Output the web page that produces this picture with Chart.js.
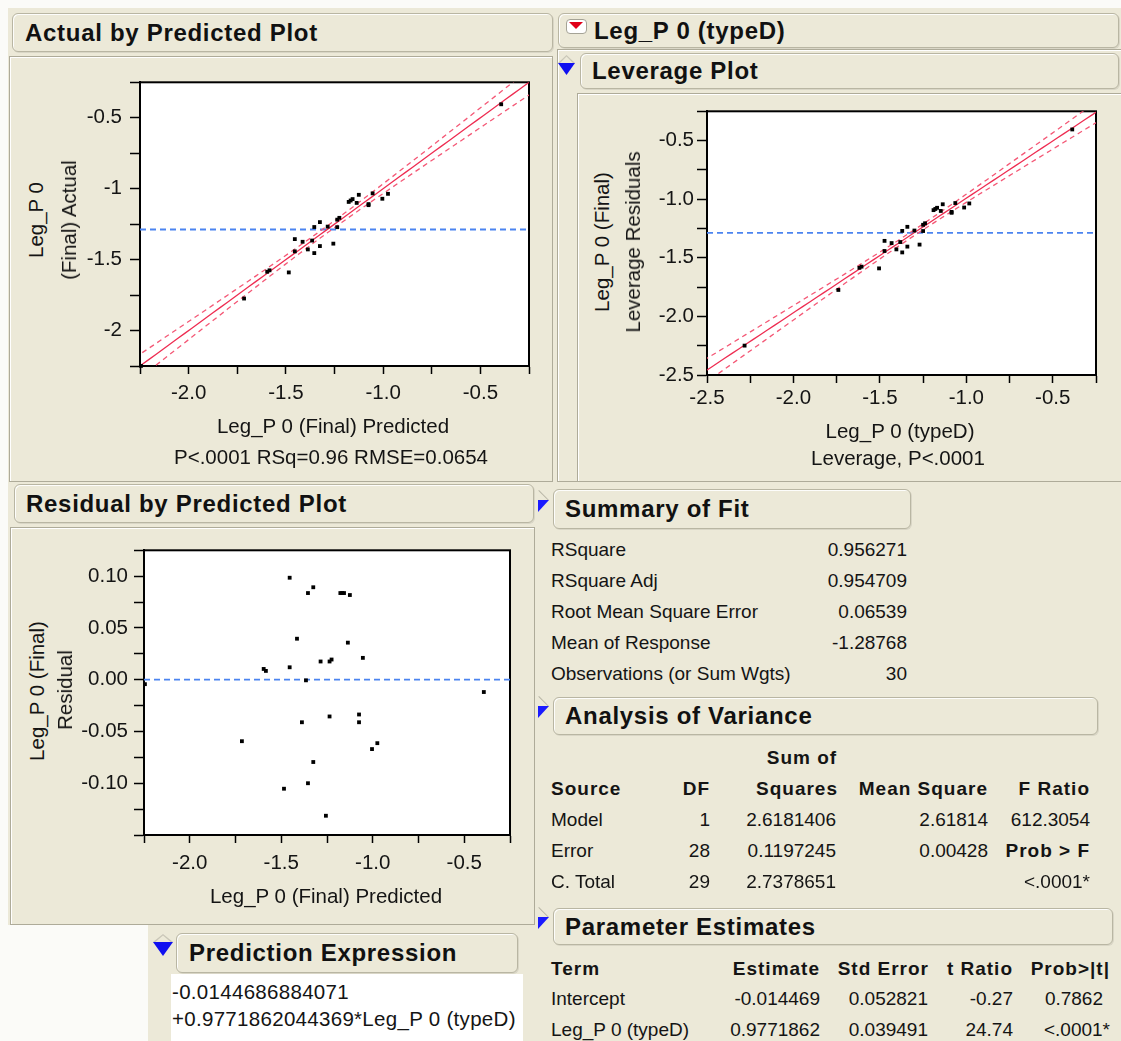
<!DOCTYPE html>
<html>
<head>
<meta charset="utf-8">
<title>Leg_P 0 (typeD)</title>
<script src="https://cdn.jsdelivr.net/npm/chart.js@4.4.1/dist/chart.umd.min.js"></script>
<style>
  html, body { margin: 0; padding: 0; }
  body { width: 1121px; height: 1041px; position: relative; overflow: hidden; background: #fbfbf8;
         font-family: "Liberation Sans", Arial, sans-serif; color: #141414; }
  .bg { position: absolute; background: #ece9d8; }
  .panel { position: absolute; box-sizing: border-box; border: 1px solid #aeab99; box-shadow: inset 1px 1px 0 #fff; }
  .hdr { position: absolute; box-sizing: border-box; border: 1px solid #b9b6a3; border-radius: 6px; background: #ece9d8;
         box-shadow: inset 1px 1px 0 #fdfdfb, 1px 1px 0 #d9d6c6; font-weight: bold; font-size: 24px;
         letter-spacing: 0.7px; display: flex; align-items: center; white-space: nowrap; color: #111; }
  .t { position: absolute; white-space: nowrap; font-size: 19px; line-height: 22px; }
  .b { font-weight: bold; letter-spacing: 1px; }
  .pt { font-size: 20.5px; line-height: 24px; }
  .ex { font-size: 20.5px; line-height: 24px; letter-spacing: 0.3px; }
  canvas { position: absolute; }
  .corner { position: absolute; width: 11px; height: 12px; background: #1a1aff; clip-path: polygon(0 0, 100% 0, 0 100%); }
  .slash { position: absolute; width: 14px; height: 1px; background: #b8b5a6; transform: rotate(45deg); transform-origin: 0 0; }
  .down { position: absolute; background: #1010f0; clip-path: polygon(0 0, 100% 0, 50% 100%); }
  .up { position: absolute; background: #c9c6b8; clip-path: polygon(50% 0, 100% 100%, 88% 100%, 50% 18%, 12% 100%, 0 100%); }
</style>
</head>
<body>

<div class="bg" style="left:8px;top:8px;width:547px;height:917px"></div>
<div class="bg" style="left:553px;top:8px;width:568px;height:1033px"></div>
<div class="bg" style="left:148px;top:925px;width:407px;height:116px"></div>

<div class="panel" style="left:9px;top:56px;width:544px;height:426px"></div>
<div class="panel" style="left:557px;top:49px;width:570px;height:433px"></div>
<div class="panel" style="left:577px;top:93px;width:550px;height:389px"></div>
<div class="panel" style="left:10px;top:527px;width:525px;height:398px"></div>

<div class="hdr" style="left:12px;top:13px;width:541px;height:39px;padding-left:12px">Actual by Predicted Plot</div>
<div class="hdr" style="left:558px;top:13px;width:561px;height:35px;padding-left:35px">Leg_P 0 (typeD)</div>
<div class="hdr" style="left:580px;top:53px;width:539px;height:36px;padding-left:11px">Leverage Plot</div>
<div class="hdr" style="left:14px;top:484px;width:520px;height:39px;padding-left:11px">Residual by Predicted Plot</div>
<div class="hdr" style="left:553px;top:489px;width:358px;height:40px;padding-left:11px">Summary of Fit</div>
<div class="hdr" style="left:553px;top:697px;width:545px;height:38px;padding-left:11px">Analysis of Variance</div>
<div class="hdr" style="left:553px;top:908px;width:560px;height:37px;padding-left:11px">Parameter Estimates</div>
<div class="hdr" style="left:176px;top:933px;width:342px;height:40px;padding-left:12px">Prediction Expression</div>

<!-- outline disclosure icons -->
<div style="position:absolute;left:566px;top:19px;width:19px;height:13px;background:#fff;border:1px solid #a5a396;border-radius:4px"></div>
<div class="down" style="left:569px;top:22px;width:14px;height:7px;background:#e00018"></div>
<div class="up" style="left:558px;top:55px;width:17px;height:8px"></div>
<div class="down" style="left:558px;top:63px;width:17px;height:12px"></div>
<div class="up" style="left:153px;top:934px;width:20px;height:8px"></div>
<div class="down" style="left:153px;top:942px;width:20px;height:14px"></div>
<div class="slash" style="left:539px;top:490px"></div>
<div class="corner" style="left:538px;top:500px"></div>
<div class="slash" style="left:539px;top:696px"></div>
<div class="corner" style="left:538px;top:706px"></div>
<div class="slash" style="left:539px;top:907px"></div>
<div class="corner" style="left:538px;top:917px"></div>

<div style="position:absolute;left:171px;top:974px;width:352px;height:67px;background:#fff"></div>

<script>
// fitted values of Leg_P 0 (Final) and their residuals, one pair per observation
const predicted = [-1.454, -1.354, -1.325, -1.177, -1.157, -1.125, -1.414, -1.136, -1.285, -1.236,
                   -1.225, -1.054, -1.596, -1.584, -1.454, -1.365, -1.236, -1.075, -1.075, -1.387,
                   -0.975, -1.004, -1.325, -1.354, -1.485, -1.256, -1.715, -2.245, -0.393, -1.167];
const residual = [0.0985, 0.0837, 0.0893, 0.0837, 0.0837, 0.0818, 0.0396, 0.0358, 0.0176, 0.0176,
                  0.0195, 0.0211, 0.0104, 0.0085, 0.0120, -0.0006, -0.0355, -0.0336, -0.0411, -0.0411,
                  -0.0613, -0.0670, -0.0795, -0.1000, -0.1053, -0.1314, -0.0594, -0.0043, -0.0119, 0.0837];

// model summary
const interceptEst = -0.014469;
const slopeEst = 0.9771862;
const meanResponse = -1.28768;
const rmse = 0.06539;
const nObs = 30;
const ssModel = 2.6181406;
const tQuantile = 2.0484; // t(0.975, 28)

// axis ranges
const predRange = [-2.25, -0.25];
const actualRange = [-2.25, -0.25];
const typeDRange = [-2.5, -0.25];
const leverageRange = [-2.5, -0.25];
const residRange = [-0.15, 0.125];
const residLabelled = [-0.1, 0.1];

// report tables
const fitLabels = ['RSquare', 'RSquare Adj', 'Root Mean Square Error', 'Mean of Response', 'Observations (or Sum Wgts)'];
const fitValues = ['0.956271', '0.954709', '0.06539', '-1.28768', '30'];
const anovaSource = ['Model', 'Error', 'C. Total'];
const anovaDF = ['1', '28', '29'];
const anovaSS = ['2.6181406', '0.1197245', '2.7378651'];
const anovaMS = ['2.61814', '0.00428', ''];
const anovaF = ['612.3054', 'Prob > F', '<.0001*'];
const paramTerm = ['Intercept', 'Leg_P 0 (typeD)'];
const paramEst = ['-0.014469', '0.9771862'];
const paramSE = ['0.052821', '0.039491'];
const paramT = ['-0.27', '24.74'];
const paramP = ['0.7862', '<.0001*'];
const expression = ['-0.0144686884071', '+0.9771862044369*Leg_P 0 (typeD)'];

const fitRed = 'rgb(238,45,82)';
const bandRed = 'rgb(244,88,118)';
const meanBlue = 'rgb(75,132,240)';
const fontFamily = "'Liberation Sans', Arial, sans-serif";

function label(text, x, y, align, cls, rotate) {
  const d = document.createElement('div');
  d.className = 't ' + (cls || '');
  d.textContent = text;
  d.style.left = x + 'px';
  d.style.top = y + 'px';
  const tx = align === 'right' ? '-100%' : align === 'center' ? '-50%' : '0';
  d.style.transform = `translate(${tx}, -50%)` + (rotate ? ' rotate(-90deg)' : '');
  document.body.appendChild(d);
  return d;
}

const isMult = (v, m) => Math.abs(v / m - Math.round(v / m)) < 1e-6;
const fmtOne = v => isMult(v, 0.5) ? v.toFixed(1) : '';
const fmtShort = v => isMult(v, 0.5) ? String(Math.round(v * 10) / 10) : '';
const fmtResid = v => {
  if (!isMult(v, 0.05) || v < residLabelled[0] - 1e-9 || v > residLabelled[1] + 1e-9) return '';
  return Math.abs(v) < 1e-9 ? '0.00' : v.toFixed(2);
};

function fitCurves(range, center, sxx, line) {
  const fit = [], upper = [], lower = [];
  const lo = range[0] - 0.1, hi = range[1] + 0.1;
  for (let i = 0; i <= 60; i++) {
    const x = lo + (hi - lo) * i / 60;
    const y = line(x);
    const half = tQuantile * rmse * Math.sqrt(1 / nObs + (x - center) ** 2 / sxx);
    fit.push({x, y});
    upper.push({x, y: y + half});
    lower.push({x, y: y - half});
  }
  return {fit, upper, lower};
}

const framePlugin = {
  id: 'frame',
  beforeDraw(chart) {
    const {ctx, chartArea: a} = chart;
    ctx.save();
    ctx.fillStyle = '#fff';
    ctx.fillRect(a.left, a.top, a.width, a.height);
    ctx.restore();
  },
  beforeDatasetsDraw(chart) {
    const {ctx, chartArea: a} = chart;
    ctx.save();
    ctx.strokeStyle = '#000';
    ctx.lineWidth = 2;
    ctx.strokeRect(a.left, a.top, a.width, a.height);
    ctx.restore();
  }
};

function axis(range, step, fmt, isX, size, tickLen, pad) {
  return {
    type: 'linear', min: range[0], max: range[1],
    afterFit(scale) { if (isX) scale.height = size; else scale.width = size; },
    ticks: { stepSize: step, autoSkip: false, maxRotation: 0, padding: pad, color: '#141414',
             font: { family: fontFamily, size: 20.5 }, callback: fmt },
    grid: { drawOnChartArea: false, drawTicks: true, tickLength: tickLen, tickColor: '#000', tickWidth: 1.5, color: '#000' },
    border: { display: true, color: '#000', width: 2 }
  };
}

function drawPlot(area, cfg) {
  const padLeft = 80, padBottom = 50, padTop = 12, padRight = 14;
  const canvas = document.createElement('canvas');
  const w = area.r - area.l + padLeft + padRight;
  const h = area.b - area.t + padTop + padBottom;
  canvas.width = w; canvas.height = h;
  canvas.style.width = w + 'px'; canvas.style.height = h + 'px';
  canvas.style.left = (area.l - padLeft) + 'px';
  canvas.style.top = (area.t - padTop) + 'px';
  document.body.appendChild(canvas);

  const datasets = [{
    data: cfg.points, pointStyle: 'rect', pointRadius: 2.7, backgroundColor: '#000',
    borderWidth: 0, clip: false
  }];
  if (cfg.curves) {
    datasets.push({ data: cfg.curves.fit, showLine: true, pointRadius: 0, borderColor: fitRed, borderWidth: 1.3 });
    datasets.push({ data: cfg.curves.upper, showLine: true, pointRadius: 0, borderColor: bandRed, borderWidth: 1.3, borderDash: [5, 4] });
    datasets.push({ data: cfg.curves.lower, showLine: true, pointRadius: 0, borderColor: bandRed, borderWidth: 1.3, borderDash: [5, 4] });
  }
  datasets.push({
    data: [{x: cfg.xRange[0], y: cfg.refY}, {x: cfg.xRange[1], y: cfg.refY}],
    showLine: true, pointRadius: 0, borderColor: meanBlue, borderWidth: 1.8, borderDash: [6, 4]
  });

  new Chart(canvas, {
    type: 'scatter',
    data: { datasets },
    options: {
      responsive: false, animation: false, devicePixelRatio: 1,
      layout: { padding: { left: 0, top: padTop, right: padRight, bottom: 0 } },
      plugins: { legend: { display: false }, tooltip: { enabled: false } },
      scales: {
        x: axis(cfg.xRange, 0.25, cfg.xFmt, true, padBottom, 8, cfg.xPad),
        y: axis(cfg.yRange, cfg.yStep, cfg.yFmt, false, padLeft, 10, cfg.yPad)
      }
    },
    plugins: [framePlugin]
  });
}

const actual = predicted.map((p, i) => p + residual[i]);
const typeD = predicted.map(p => (p - interceptEst) / slopeEst);
const typeDMean = (meanResponse - interceptEst) / slopeEst;

// Actual by Predicted
drawPlot({l: 140, t: 74, r: 529, b: 366}, {
  points: predicted.map((p, i) => ({x: p, y: actual[i]})),
  curves: fitCurves(predRange, meanResponse, ssModel, x => x),
  refY: meanResponse, xRange: predRange, yRange: actualRange, yStep: 0.25,
  xFmt: fmtOne, yFmt: fmtShort, xPad: 7, yPad: 8
});

// Leverage plot for typeD
drawPlot({l: 707, t: 108, r: 1096, b: 375}, {
  points: typeD.map((x, i) => ({x, y: actual[i]})),
  curves: fitCurves(typeDRange, typeDMean, ssModel / (slopeEst * slopeEst), x => interceptEst + slopeEst * x),
  refY: meanResponse, xRange: typeDRange, yRange: leverageRange, yStep: 0.25,
  xFmt: fmtOne, yFmt: fmtOne, xPad: 3, yPad: 3
});

// Residual by Predicted
drawPlot({l: 144, t: 544, r: 510, b: 835}, {
  points: predicted.map((p, i) => ({x: p, y: residual[i]})),
  curves: null,
  refY: 0, xRange: predRange, yRange: residRange, yStep: 0.025,
  xFmt: fmtOne, yFmt: fmtResid, xPad: 8, yPad: 6
});

// axis titles
label('Leg_P 0', 36, 220, 'center', 'pt', true);
label('(Final) Actual', 69, 220, 'center', 'pt', true);
label('Leg_P 0 (Final) Predicted', 333, 426, 'center', 'pt');
label('P<.0001 RSq=0.96 RMSE=0.0654', 331, 457, 'center', 'pt');

label('Leg_P 0 (Final)', 602, 242, 'center', 'pt', true);
label('Leverage Residuals', 633, 242, 'center', 'pt', true);
label('Leg_P 0 (typeD)', 900, 431, 'center', 'pt');
label('Leverage, P<.0001', 898, 458, 'center', 'pt');

label('Leg_P 0 (Final)', 37, 691, 'center', 'pt', true);
label('Residual', 65, 690, 'center', 'pt', true);
label('Leg_P 0 (Final) Predicted', 326, 896, 'center', 'pt');

// Summary of Fit
const fitRows = [550, 581, 612, 643, 674];
fitLabels.forEach((s, i) => {
  label(s, 551, fitRows[i], 'left');
  label(fitValues[i], 907, fitRows[i], 'right');
});

// Analysis of Variance
label('Sum of', 802, 758, 'center', 'b');
label('Source', 551, 789, 'left', 'b');
label('DF', 710, 789, 'right', 'b');
label('Squares', 838, 789, 'right', 'b');
label('Mean Square', 988, 789, 'right', 'b');
label('F Ratio', 1090, 789, 'right', 'b');
const anovaRows = [820, 851, 882];
anovaSource.forEach((s, i) => {
  const y = anovaRows[i];
  label(s, 551, y, 'left');
  label(anovaDF[i], 710, y, 'right');
  label(anovaSS[i], 836, y, 'right');
  if (anovaMS[i]) label(anovaMS[i], 988, y, 'right');
  label(anovaF[i], 1090, y, 'right', anovaF[i] === 'Prob > F' ? 'b' : '');
});

// Parameter Estimates
label('Term', 551, 969, 'left', 'b');
label('Estimate', 820, 969, 'right', 'b');
label('Std Error', 929, 969, 'right', 'b');
label('t Ratio', 1013, 969, 'right', 'b');
label('Prob>|t|', 1110, 969, 'right', 'b');
const paramRows = [999, 1030];
paramTerm.forEach((s, i) => {
  const y = paramRows[i];
  label(s, 551, y, 'left');
  label(paramEst[i], 820, y, 'right');
  label(paramSE[i], 928, y, 'right');
  label(paramT[i], 1013, y, 'right');
  label(paramP[i], paramP[i].endsWith('*') ? 1110 : 1103, y, 'right');
});

// Prediction Expression
label(expression[0], 172, 992, 'left', 'ex');
label(expression[1], 172, 1019, 'left', 'ex');
</script>
</body>
</html>
